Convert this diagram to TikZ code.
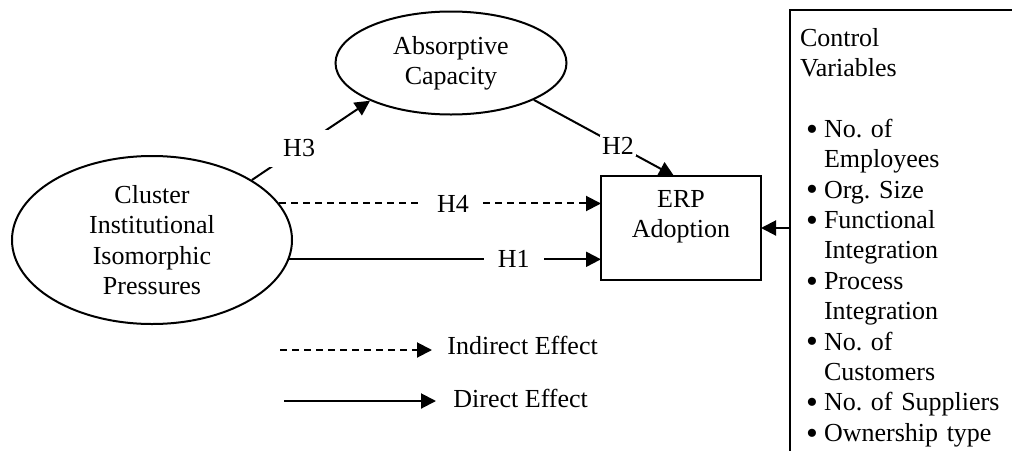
\documentclass[tikz,border=0pt]{standalone}
\usepackage{fontspec}
\setmainfont{Liberation Serif}
\usetikzlibrary{shapes.geometric,arrows.meta}
\tikzset{
  every node/.style={font=\fontsize{13}{15.2}\selectfont},
  construct/.style={draw, ellipse, line width=1pt, inner sep=0pt, align=center},
  hlabel/.style={fill=white, inner xsep=7pt, inner ysep=5pt},
  effect/.style={line width=1pt, -{Triangle[length=7.5pt,width=7.5pt]}},
  indirect/.style={effect, dash pattern=on 3.5pt off 2.5pt},
}
\newcommand{\ctrlitem}[1]{\hspace*{3pt}\makebox[9pt][l]{\smash{\raisebox{-1.4pt}{\scalebox{1.3}{\textbullet}}}}#1}
\newcommand{\ctrlcont}[1]{\hspace*{12pt}#1}

\begin{document}
\begin{tikzpicture}[x=0.5pt, y=-0.5pt]
\useasboundingbox (0,0) rectangle (1012,450);

% constructs
\node[construct, minimum width=140pt, minimum height=84pt] (cip) at (152,240)
  {Cluster\\Institutional\\Isomorphic\\Pressures};
\node[construct, minimum width=115.5pt, minimum height=51.5pt] (ac) at (451,63)
  {Absorptive\\Capacity};
\node[draw, line width=1pt, minimum width=80pt, minimum height=52pt, outer sep=0pt,
  label={[align=center, yshift=5.5pt]center:ERP\\Adoption}] (erp) at (681,228) {};

% control variables
\node[draw, line width=1pt, anchor=north west, outer sep=0pt, inner xsep=5pt,
  inner ysep=9pt, text width=116pt, align=left] (ctrl) at (790,10)
  {Control\\Variables\\[15.2pt]
   \ctrlitem{No.\ of}\\\ctrlcont{Employees}\\
   \ctrlitem{Org.\ Size}\\
   \ctrlitem{Functional}\\\ctrlcont{Integration}\\
   \ctrlitem{Process}\\\ctrlcont{Integration}\\
   \ctrlitem{No.\ of}\\\ctrlcont{Customers}\\
   \ctrlitem{No.\ of Suppliers}\\
   \ctrlitem{Ownership type}};

% hypotheses
\draw[effect] (cip.31) -- node[hlabel, pos=0.4] {H3} (ac.205);
\draw[effect] (ac.-24) -- node[fill=white, inner sep=1pt, pos=0.6] {H2} ([xshift=-3.5pt]erp.north);
\draw[indirect] (cip.16) -- node[hlabel, pos=0.54] {H4} (cip.16 -| erp.west);
\draw[effect] (cip.-8) -- node[hlabel, pos=0.72] {H1} (cip.-8 -| erp.west);
\draw[effect] (ctrl.west |- erp.east) -- (erp.east);

% legend
\coordinate (indstart) at (280,350);
\coordinate (dirstart) at (284,401);
\node[anchor=west, inner sep=0pt] (indir) at (447,345) {Indirect Effect};
\node[anchor=west, inner sep=0pt] (dir) at (453,398) {Direct Effect};
\draw[indirect] (indstart) -- ([xshift=-7.5pt]indstart -| indir.west);
\draw[effect] (dirstart) -- ([xshift=-8.5pt]dirstart -| dir.west);
\end{tikzpicture}
\end{document}
